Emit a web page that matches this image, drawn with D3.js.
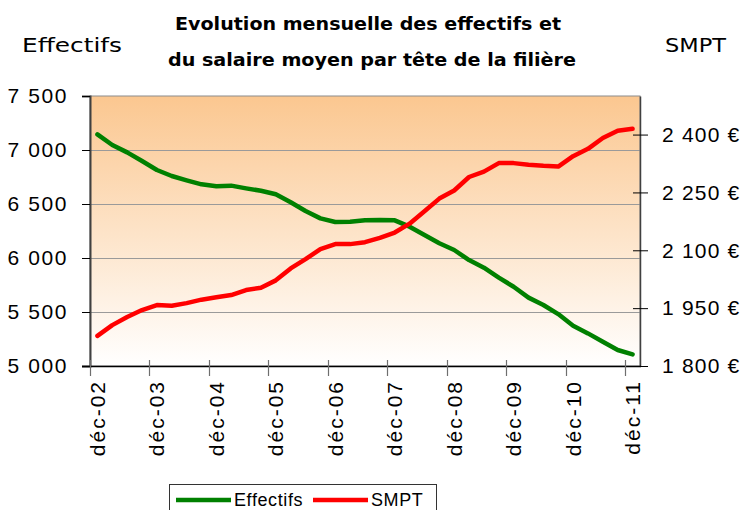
<!DOCTYPE html>
<html>
<head>
<meta charset="utf-8">
<script src="https://cdn.jsdelivr.net/npm/d3@7"></script>
<style>
  body { margin: 0; background: #fff; }
  svg { display: block; }
</style>
</head>
<body>
<div id="chart"></div>
<script>
// quarterly points, dec 2002 -> dec 2011
var quarters = [
  "déc-02","mars-03","juin-03","sept-03","déc-03","mars-04","juin-04","sept-04",
  "déc-04","mars-05","juin-05","sept-05","déc-05","mars-06","juin-06","sept-06",
  "déc-06","mars-07","juin-07","sept-07","déc-07","mars-08","juin-08","sept-08",
  "déc-08","mars-09","juin-09","sept-09","déc-09","mars-10","juin-10","sept-10",
  "déc-10","mars-11","juin-11","sept-11","déc-11"
];
var effectifs = [
  7145, 7046, 6978, 6898, 6815, 6759, 6719, 6682,
  6664, 6670, 6645, 6623, 6590, 6516, 6435, 6367,
  6333, 6336, 6350, 6352, 6349, 6290, 6213, 6136,
  6074, 5981, 5910, 5818, 5734, 5633, 5565, 5481,
  5373, 5302, 5225, 5148, 5108
];
var smpt = [
  1878, 1906, 1927, 1945, 1958, 1956, 1963, 1972,
  1978, 1984, 1997, 2003, 2022, 2053, 2077, 2103,
  2116, 2116, 2121, 2132, 2146, 2169, 2201, 2234,
  2255, 2290, 2304, 2326, 2326, 2322, 2319, 2317,
  2344, 2363, 2391, 2410, 2415
];
var leftTicks = [5000, 5500, 6000, 6500, 7000, 7500];
var rightTicks = [1800, 1950, 2100, 2250, 2400];

var W = 745, H = 510;
var plot = {left: 90, right: 640, top: 96, bottom: 366};
var axisFont = "'Liberation Sans', Arial, sans-serif";

var svg = d3.select("#chart").append("svg")
  .attr("width", W)
  .attr("height", H);

var defs = svg.append("defs");
var grad = defs.append("linearGradient")
  .attr("id", "bg")
  .attr("x1", 0).attr("y1", 0).attr("x2", 0).attr("y2", 1);
grad.append("stop").attr("offset", "0%").attr("stop-color", "#fbc790");
grad.append("stop").attr("offset", "100%").attr("stop-color", "#ffffff");

var x = d3.scaleBand()
  .domain(quarters)
  .range([plot.left, plot.right])
  .paddingInner(0).paddingOuter(0);

var yL = d3.scaleLinear().domain([5000, 7500]).range([plot.bottom, plot.top]);
var yR = d3.scaleLinear().domain([1800, 2500]).range([plot.bottom, plot.top]);

var fmt = function(v) { return d3.format(",")(v).replace(/,/g, "\u00a0"); };

// plot background
svg.append("rect")
  .attr("x", plot.left).attr("y", plot.top)
  .attr("width", plot.right - plot.left)
  .attr("height", plot.bottom - plot.top)
  .attr("fill", "url(#bg)")
  .attr("stroke", "#8c8c8c")
  .attr("stroke-width", 1);

// gridlines on the left scale
svg.append("g").selectAll("line")
  .data(leftTicks.slice(1, -1))
  .enter().append("line")
  .attr("x1", plot.left).attr("x2", plot.right)
  .attr("y1", d => Math.round(yL(d)) + 0.5)
  .attr("y2", d => Math.round(yL(d)) + 0.5)
  .attr("stroke", "#9a9a9a")
  .attr("stroke-width", 1);

// left axis
var leftAxis = d3.axisLeft(yL)
  .tickValues(leftTicks)
  .tickSize(8)
  .tickPadding(14)
  .tickFormat(fmt);

var gL = svg.append("g")
  .attr("transform", `translate(${plot.left}, 0)`)
  .call(leftAxis);
gL.attr("font-family", null);
gL.select(".domain").attr("stroke", "#404040").attr("stroke-width", 2);
gL.selectAll(".tick line").attr("stroke", "#000");
gL.selectAll("text")
  .style("font-family", axisFont)
  .attr("font-size", 21)
  .attr("letter-spacing", 1.6)
  .attr("fill", "#000");

// right axis (ticks cross the axis line)
var rightAxis = d3.axisRight(yR)
  .tickValues(rightTicks)
  .tickSizeInner(8)
  .tickSizeOuter(0)
  .tickPadding(14)
  .tickFormat(d => fmt(d) + "\u00a0€");

var gR = svg.append("g")
  .attr("transform", `translate(${plot.right}, 0)`)
  .call(rightAxis);
gR.attr("font-family", null);
gR.select(".domain").attr("stroke", "#404040").attr("stroke-width", 1.5);
gR.selectAll(".tick line").attr("x1", -7).attr("stroke", "#000");
gR.selectAll("text")
  .style("font-family", axisFont)
  .attr("font-size", 21)
  .attr("letter-spacing", 1.2)
  .attr("fill", "#000");

// x axis: ticks at quarter boundaries, one label per year
var yearIdx = d3.range(0, quarters.length, 4);
var gX = svg.append("g");
gX.append("line")
  .attr("x1", plot.left - 8).attr("x2", plot.right + 1)
  .attr("y1", plot.bottom + 0.5).attr("y2", plot.bottom + 0.5)
  .attr("stroke", "#000").attr("stroke-width", 1.5);
gX.selectAll(".xt")
  .data(yearIdx)
  .enter().append("line")
  .attr("class", "xt")
  .attr("x1", i => Math.round(x(quarters[i])) + 0.5)
  .attr("x2", i => Math.round(x(quarters[i])) + 0.5)
  .attr("y1", plot.bottom - 6)
  .attr("y2", plot.bottom + 10)
  .attr("stroke", "#6e6e6e")
  .attr("stroke-width", 1.2);
gX.selectAll(".xl")
  .data(yearIdx)
  .enter().append("text")
  .attr("class", "xl")
  .attr("transform", i => `translate(${x(quarters[i]) + x.bandwidth() / 2}, ${plot.bottom + 14}) rotate(-90)`)
  .attr("dy", "0.36em")
  .attr("text-anchor", "end")
  .style("font-family", axisFont)
  .attr("font-size", 21)
  .attr("letter-spacing", 2)
  .text(i => quarters[i]);

// lines
var cx = (d, i) => x(quarters[i]) + x.bandwidth() / 2;

svg.append("path")
  .datum(effectifs)
  .attr("fill", "none")
  .attr("stroke", "#008000")
  .attr("stroke-width", 4.5)
  .attr("stroke-linejoin", "round")
  .attr("stroke-linecap", "round")
  .attr("d", d3.line().x(cx).y(d => yL(d)));

svg.append("path")
  .datum(smpt)
  .attr("fill", "none")
  .attr("stroke", "#ff0000")
  .attr("stroke-width", 4.5)
  .attr("stroke-linejoin", "round")
  .attr("stroke-linecap", "round")
  .attr("d", d3.line().x(cx).y(d => yR(d)));

// titles
var titleFont = "'DejaVu Sans', Verdana, sans-serif";
svg.append("text")
  .attr("x", 368).attr("y", 30)
  .attr("text-anchor", "middle")
  .style("font-family", titleFont)
  .attr("font-weight", "bold")
  .attr("font-size", 17)
  .attr("textLength", 386)
  .attr("lengthAdjust", "spacingAndGlyphs")
  .text("Evolution mensuelle des effectifs et");
svg.append("text")
  .attr("x", 372).attr("y", 66)
  .attr("text-anchor", "middle")
  .style("font-family", titleFont)
  .attr("font-weight", "bold")
  .attr("font-size", 17)
  .attr("textLength", 408)
  .attr("lengthAdjust", "spacingAndGlyphs")
  .text("du salaire moyen par tête de la filière");

svg.append("text")
  .attr("x", 22).attr("y", 52)
  .style("font-family", titleFont)
  .attr("font-size", 19)
  .attr("textLength", 100)
  .attr("lengthAdjust", "spacingAndGlyphs")
  .text("Effectifs");
svg.append("text")
  .attr("x", 665).attr("y", 52)
  .style("font-family", titleFont)
  .attr("font-size", 19)
  .attr("textLength", 61)
  .attr("lengthAdjust", "spacingAndGlyphs")
  .text("SMPT");

// legend
var legend = svg.append("g");
legend.append("rect")
  .attr("x", 169.5).attr("y", 484.5)
  .attr("width", 267).attr("height", 40)
  .attr("fill", "#fff")
  .attr("stroke", "#333");
var items = [
  {name: "Effectifs", color: "#008000", x: 176},
  {name: "SMPT", color: "#ff0000", x: 313}
];
items.forEach(function(it) {
  legend.append("line")
    .attr("x1", it.x).attr("x2", it.x + 55)
    .attr("y1", 500).attr("y2", 500)
    .attr("stroke", it.color)
    .attr("stroke-width", 4.5);
  legend.append("text")
    .attr("x", it.x + 58).attr("y", 506)
    .style("font-family", axisFont)
    .attr("font-size", 18)
    .attr("letter-spacing", 0.6)
    .text(it.name);
});
</script>
</body>
</html>
